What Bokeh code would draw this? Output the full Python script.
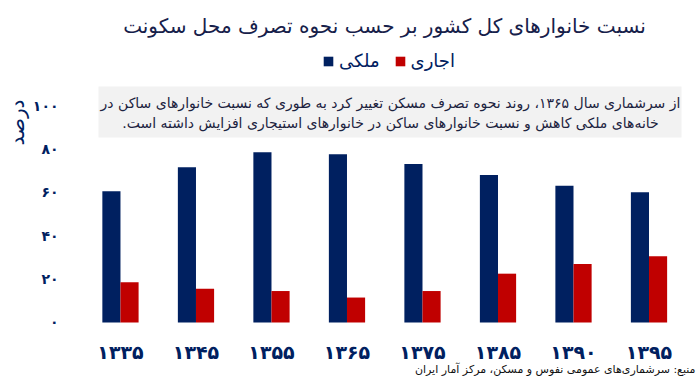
import math
from bokeh.plotting import figure
from bokeh.models import (ColumnDataSource, Range1d, Label, BoxAnnotation,
                          Legend, LegendItem)
from bokeh.core.properties import value
from bokeh.transform import dodge
from bokeh.embed import file_html
from bokeh.resources import INLINE

# ---- data ----
years = ["۱۳۳۵", "۱۳۴۵", "۱۳۵۵", "۱۳۶۵", "۱۳۷۵", "۱۳۸۵", "۱۳۹۰", "۱۳۹۵"]
owned = [60.5, 71.5, 78.5, 77.5, 73.0, 68.0, 63.0, 60.0]
rented = [18.5, 15.5, 14.5, 11.5, 14.5, 22.5, 27.0, 30.5]
y_ticks = [0, 20, 40, 60, 80, 100]
y_tick_labels = ["۰", "۲۰", "۴۰", "۶۰", "۸۰", "۱۰۰"]
series_names = ["ملکی", "اجاری"]
title_text = "نسبت خانوارهای کل کشور بر حسب نحوه تصرف محل سکونت"
note_lines = [
    "از سرشماری سال ۱۳۶۵، روند نحوه تصرف مسکن تغییر کرد به طوری که نسبت خانوارهای ساکن در",
    "خانه‌های ملکی کاهش و نسبت خانوارهای ساکن در خانوارهای استیجاری افزایش داشته است.",
]
y_label = "درصد"
source_text = "منبع: سرشماری‌های عمومی نفوس و مسکن، مرکز آمار ایران"

NAVY = "#002060"
RED = "#C00000"
TXT = "#16204a"
FONT = "DejaVu Sans"
RLM = "\u200f"

W, H = 700, 379
idx = list(range(len(years)))
src = ColumnDataSource(dict(idx=idx, years=years, owned=owned, rented=rented))
tick_src = ColumnDataSource(dict(y=y_ticks, label=y_tick_labels))

p = figure(width=W, height=H, x_range=Range1d(-1.589, 7.682),
           y_range=Range1d(-26.27, 148.39), output_backend="svg", toolbar_location=None,
           min_border=0, x_axis_type=None, y_axis_type=None)
p.outline_line_color = None
p.grid.visible = False
p.background_fill_color = "white"
p.border_fill_color = "white"

# note box
p.add_layout(BoxAnnotation(left=98, right=681, top=293, bottom=242,
                           left_units="screen", right_units="screen",
                           top_units="screen", bottom_units="screen",
                           fill_color="#f2f2f2", fill_alpha=1, line_color=None, level="underlay"))

r1 = p.vbar(x=dodge("idx", -0.12), top="owned", width=0.24,
            source=src, fill_color=NAVY, line_color=None)
r2 = p.vbar(x=dodge("idx", 0.12), top="rented", width=0.24,
            source=src, fill_color=RED, line_color=None)

# category labels (x) and value labels (y)
p.text(x="idx", y=-13.8, text="years", source=src, text_font=value(FONT),
       text_font_size="19px", text_font_style="bold", text_color=NAVY,
       text_align="center", text_baseline="middle")
p.text(x=-0.821, y="y", text="label", source=tick_src, text_font=value(FONT),
       text_font_size="14px", text_font_style="bold", text_color=NAVY,
       text_align="right", text_baseline="middle")

def lab(x, y, text, size, color=TXT, align="center", angle=0, style="normal"):
    p.add_layout(Label(x=x, y=y, x_units="screen", y_units="screen", text=text,
                       text_font=FONT, text_font_size=size, text_color=color,
                       text_align=align, text_baseline="middle", angle=angle,
                       text_font_style=style))

lab(384, 354, title_text, "20px")
lab(390, 277, note_lines[0], "14px", color="#1c2340")
lab(390, 257, note_lines[1] + RLM, "14px", color="#1c2340")
lab(16, 257, y_label, "20px", color=NAVY, angle=math.pi / 2)
lab(695, 10, source_text, "11px", color="#111111", align="right")

legend = Legend(items=[LegendItem(label=series_names[0], renderers=[r1]),
                       LegendItem(label=series_names[1], renderers=[r2])],
                orientation="horizontal", location=(322, 308),
                glyph_width=12, glyph_height=12, label_standoff=5, spacing=14,
                padding=0, margin=0, border_line_color=None, background_fill_alpha=0,
                label_text_font=FONT, label_text_font_size="18px", label_text_color=NAVY)
p.add_layout(legend, "center")

open("out.html", "w").write(file_html(p, INLINE))
